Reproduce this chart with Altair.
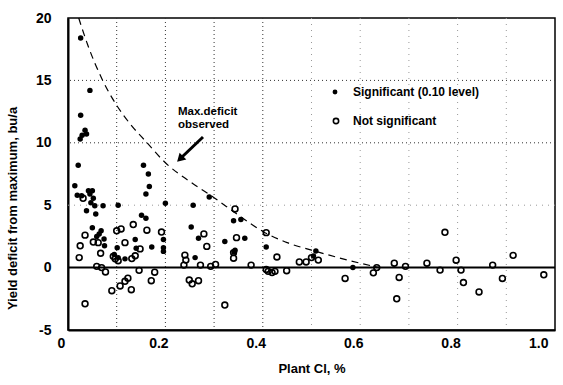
import altair as alt
import pandas as pd

# ---- data ----
sig_x = [0.026, 0.045, 0.026, 0.035, 0.038, 0.025, 0.029, 0.021, 0.014, 0.019, 0.028,
         0.042, 0.050, 0.045, 0.052, 0.047, 0.055, 0.072, 0.038, 0.057, 0.103, 0.155,
         0.165, 0.167, 0.160, 0.200, 0.151, 0.160, 0.050, 0.068, 0.064, 0.059, 0.074,
         0.075, 0.101, 0.103, 0.117, 0.095, 0.140, 0.138, 0.172, 0.196, 0.196, 0.196,
         0.290, 0.257, 0.253, 0.268, 0.261, 0.340, 0.355, 0.322, 0.343, 0.341, 0.363,
         0.407, 0.504, 0.509, 0.585]
sig_y = [18.4, 14.2, 12.2, 11.0, 10.7, 10.3, 10.6, 8.2, 6.55, 5.8, 5.75,
         6.15, 6.15, 5.9, 5.55, 5.2, 4.95, 4.95, 4.55, 4.3, 5.0, 8.2,
         7.5, 6.5, 5.9, 5.15, 4.2, 3.95, 3.2, 2.95, 2.7, 2.5, 2.3,
         1.75, 1.6, 0.8, 0.7, 1.05, 1.55, 2.25, 1.65, 2.25, 1.6, 1.3,
         5.65, 5.0, 3.25, 2.35, 0.8, 3.75, 3.85, 2.1, 1.4, 1.25, 2.35,
         1.65, 0.93, 1.33, 0.0]

ns_x = [0.031, 0.035, 0.025, 0.023, 0.052, 0.062, 0.067, 0.100, 0.109, 0.117, 0.134,
        0.162, 0.192, 0.131, 0.138, 0.148, 0.093, 0.097, 0.103, 0.059, 0.069, 0.077,
        0.035, 0.090, 0.107, 0.117, 0.123, 0.130, 0.146, 0.171, 0.178, 0.279, 0.285,
        0.240, 0.242, 0.238, 0.272, 0.293, 0.303, 0.343, 0.346, 0.340, 0.340, 0.376,
        0.249, 0.255, 0.268, 0.322, 0.407, 0.429, 0.407, 0.411, 0.419, 0.425, 0.449,
        0.475, 0.489, 0.500, 0.514, 0.634, 0.627, 0.569, 0.774, 0.914, 0.797, 0.872,
        0.737, 0.670, 0.693, 0.764, 0.807, 0.680, 0.675, 0.812, 0.844, 0.892, 0.977]
ns_y = [5.55, 2.6, 1.75, 0.8, 2.05, 2.0, 1.15, 2.95, 3.1, 2.0, 3.45,
        3.0, 2.85, 0.72, 0.95, 1.5, 0.9, 0.7, 0.55, 0.1, 0.0, -0.35,
        -2.9, -1.85, -1.47, -1.1, -0.85, -1.77, -0.22, -1.05, -0.37, 2.7, 1.7,
        1.0, 0.6, 0.2, 0.2, 0.1, 0.25, 4.7, 2.4, 1.2, 0.75, 0.2,
        -1.0, -1.3, -1.05, -3.0, 2.8, 0.85, -0.15, -0.3, -0.4, -0.3, -0.25,
        0.45, 0.45, 0.8, 0.6, 0.0, -0.42, -0.87, 2.83, 0.98, 0.59, 0.2,
        0.35, 0.35, 0.1, -0.2, -0.2, -0.79, -2.5, -1.2, -1.95, -0.87, -0.58]

curve_x = [0.022, 0.04, 0.07, 0.10, 0.13, 0.16, 0.20, 0.25, 0.30, 0.35, 0.40, 0.45, 0.50, 0.55, 0.60, 0.64]
curve_y = [20.0, 17.9, 15.1, 13.0, 11.4, 10.1, 8.4, 6.9, 5.6, 4.2, 2.9, 2.0, 1.4, 0.85, 0.35, 0.0]

x_ticks = [0, 0.2, 0.4, 0.6, 0.8, 1.0]
y_ticks = [-5, 0, 5, 10, 15, 20]
grid_x_strong = [0.1, 0.2, 0.3, 0.4]
grid_x_faint = [0.5, 0.6, 0.7, 0.8, 0.9]
grid_y_strong = [10, 15]
grid_y_faint = [5]

legend_labels = ["Significant (0.10 level)", "Not significant"]
note_lines = ["Max.deficit", "observed"]

FONT = "Liberation Sans"
W, H = 487, 312

xs = alt.Scale(domain=[0, 1], nice=False, zero=False)
ys = alt.Scale(domain=[-5, 20], nice=False, zero=False)

xaxis = alt.Axis(values=x_ticks, grid=False, ticks=False,
                 labelExpr="datum.value == 0 ? '0' : format(datum.value, '.1f')",
                 labelAlign={"condition": {"test": "datum.value == 1", "value": "right"}, "value": "center"},
                 labelOffset=-7,
                 labelFont=FONT, labelFontSize=14, labelFontWeight="bold", labelColor="black",
                 labelPadding=6, labelFlush=False,
                 title="Plant Cl, %", titleFont=FONT, titleFontSize=13, titleFontWeight="bold",
                 titleColor="black", titlePadding=12,
                 domainColor="black", domainWidth=2)
yaxis = alt.Axis(values=y_ticks, grid=False, ticks=False,
                 labelExpr="'' + datum.value",
                 labelFont=FONT, labelFontSize=14, labelFontWeight="bold", labelColor="black",
                 labelPadding=17,
                 title="Yield deficit from maximum, bu/a", titleFont=FONT, titleFontSize=13,
                 titleFontWeight="bold", titleColor="black", titlePadding=16,
                 titleY=H / 2 + 34, titleAlign="center",
                 domainColor="black", domainWidth=2)

base_pts = pd.DataFrame({"x": [0.0], "y": [0.0]})

axes_layer = alt.Chart(base_pts).mark_point(opacity=0).encode(
    x=alt.X("x:Q", scale=xs, axis=xaxis),
    y=alt.Y("y:Q", scale=ys, axis=yaxis),
)

vg_s = alt.Chart(pd.DataFrame({"x": grid_x_strong})).mark_rule(
    color="#333", strokeDash=[1, 3], strokeWidth=1).encode(x=alt.X("x:Q", scale=xs))
vg_f = alt.Chart(pd.DataFrame({"x": grid_x_faint})).mark_rule(
    color="#999", strokeDash=[1, 5], strokeWidth=1).encode(x=alt.X("x:Q", scale=xs))
hg_s = alt.Chart(pd.DataFrame({"y": grid_y_strong})).mark_rule(
    color="#333", strokeDash=[1, 3], strokeWidth=1).encode(y=alt.Y("y:Q", scale=ys))
hg_f = alt.Chart(pd.DataFrame({"y": grid_y_faint})).mark_rule(
    color="#999", strokeDash=[1, 5], strokeWidth=1).encode(y=alt.Y("y:Q", scale=ys))

zero = alt.Chart(pd.DataFrame({"y": [0]})).mark_rule(color="black", strokeWidth=2).encode(
    y=alt.Y("y:Q", scale=ys))

curve = alt.Chart(pd.DataFrame({"x": curve_x, "y": curve_y})).mark_line(
    color="black", strokeDash=[7, 5], strokeWidth=1.2, interpolate="monotone").encode(
    x=alt.X("x:Q", scale=xs), y=alt.Y("y:Q", scale=ys))

open_pts = alt.Chart(pd.DataFrame({"x": ns_x, "y": ns_y})).mark_point(
    shape="circle", filled=False, color="black", strokeWidth=1.6, size=34, opacity=1).encode(
    x=alt.X("x:Q", scale=xs), y=alt.Y("y:Q", scale=ys))

fill_pts = alt.Chart(pd.DataFrame({"x": sig_x, "y": sig_y})).mark_circle(
    color="black", size=30, opacity=1).encode(
    x=alt.X("x:Q", scale=xs), y=alt.Y("y:Q", scale=ys))

one = pd.DataFrame({"a": [0]})

leg_fill = alt.Chart(one).mark_circle(color="black", size=24, opacity=1).encode(
    x=alt.value(267), y=alt.value(74))
leg_open = alt.Chart(one).mark_point(shape="circle", filled=False, color="black",
                                     strokeWidth=1.6, size=28, opacity=1).encode(
    x=alt.value(268), y=alt.value(103))
leg_t1 = alt.Chart(one).mark_text(text=legend_labels[0], align="left", baseline="middle",
                                  font=FONT, fontSize=12, fontWeight="bold", color="black").encode(
    x=alt.value(285), y=alt.value(74))
leg_t2 = alt.Chart(one).mark_text(text=legend_labels[1], align="left", baseline="middle",
                                  font=FONT, fontSize=12, fontWeight="bold", color="black").encode(
    x=alt.value(285), y=alt.value(103))

note1 = alt.Chart(one).mark_text(text=note_lines[0], align="left", baseline="middle",
                                 font=FONT, fontSize=11.5, fontWeight="bold", color="black").encode(
    x=alt.value(110), y=alt.value(94))
note2 = alt.Chart(one).mark_text(text=note_lines[1], align="left", baseline="middle",
                                 font=FONT, fontSize=11.5, fontWeight="bold", color="black").encode(
    x=alt.value(110), y=alt.value(107))

arrow_line = alt.Chart(one).mark_rule(color="black", strokeWidth=3).encode(
    x=alt.value(135), y=alt.value(119), x2=alt.value(114), y2=alt.value(139))
arrow_head = alt.Chart(one).mark_point(shape="triangle", filled=True, color="black",
                                       size=90, angle=225, opacity=1).encode(
    x=alt.value(113), y=alt.value(140))

chart = alt.layer(
    axes_layer, vg_s, vg_f, hg_s, hg_f, zero, curve, open_pts, fill_pts,
    leg_fill, leg_open, leg_t1, leg_t2, note1, note2, arrow_line, arrow_head
).properties(
    width=W, height=H,
    autosize=alt.AutoSizeParams(type="none"),
    padding={"left": 68, "top": 18, "right": 8, "bottom": 55},
    background="white",
).configure_view(stroke="black", strokeWidth=1.5)

chart.save("out.html", embed_options={"renderer": "svg", "actions": False})
